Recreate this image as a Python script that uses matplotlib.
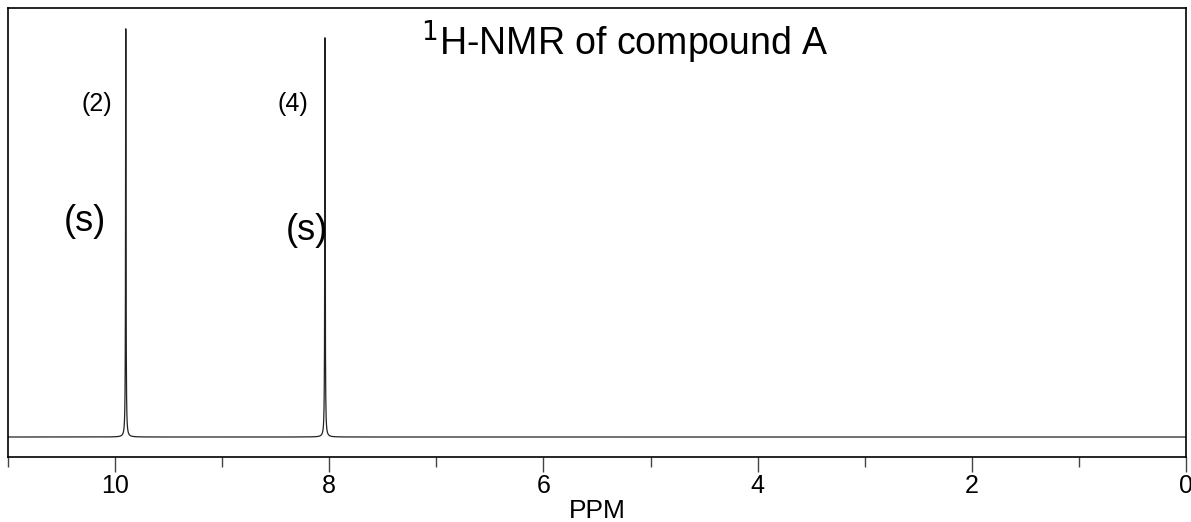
import numpy as np
import matplotlib.pyplot as plt
from matplotlib.ticker import MultipleLocator

plt.rcParams['font.family'] = ['Liberation Sans', 'DejaVu Sans']

# peaks
peak_ppm = [9.90, 8.04]
peak_height = [1.0, 0.978]
peak_hwhm = [0.0025, 0.0025]

# annotations (text, ppm, height)
labels = ["(2)", "(4)", "(s)", "(s)"]
label_ppm = [10.17, 8.34, 10.28, 8.21]
label_y = [0.816, 0.816, 0.527, 0.507]
label_size = [18, 18, 26, 26]

x = np.linspace(11, 0, 80000)
y = np.zeros_like(x)
for p, h, w in zip(peak_ppm, peak_height, peak_hwhm):
    y += h * w**2 / ((x - p)**2 + w**2)

fig = plt.figure(figsize=(11.91, 5.22), dpi=100)
ax = fig.add_axes([0.0067, 0.1245, 0.9891, 0.8602])
ax.plot(x, y, color='#222222', lw=0.9)

for t, px, py, s in zip(labels, label_ppm, label_y, label_size):
    ax.text(px, py, t, fontsize=s, ha='center', va='center')

ax.text(5.24, 0.968, r"$^{1}$H-NMR of compound A", fontsize=27,
        ha='center', va='center')

ax.set_xlim(11, 0)
ax.set_ylim(-0.049, 1.051)
ax.set_yticks([])
ax.xaxis.set_major_locator(MultipleLocator(2))
ax.xaxis.set_minor_locator(MultipleLocator(1))
ax.tick_params(axis='x', which='major', length=11, width=1, pad=1,
               labelsize=18, direction='out', color='#444444')
ax.tick_params(axis='x', which='minor', length=7, width=1, direction='out',
               color='#444444')
for sp in ax.spines.values():
    sp.set_linewidth(1.2)
ax.set_xlabel("PPM", fontsize=19, labelpad=1)

plt.savefig("out.png", dpi=100)
